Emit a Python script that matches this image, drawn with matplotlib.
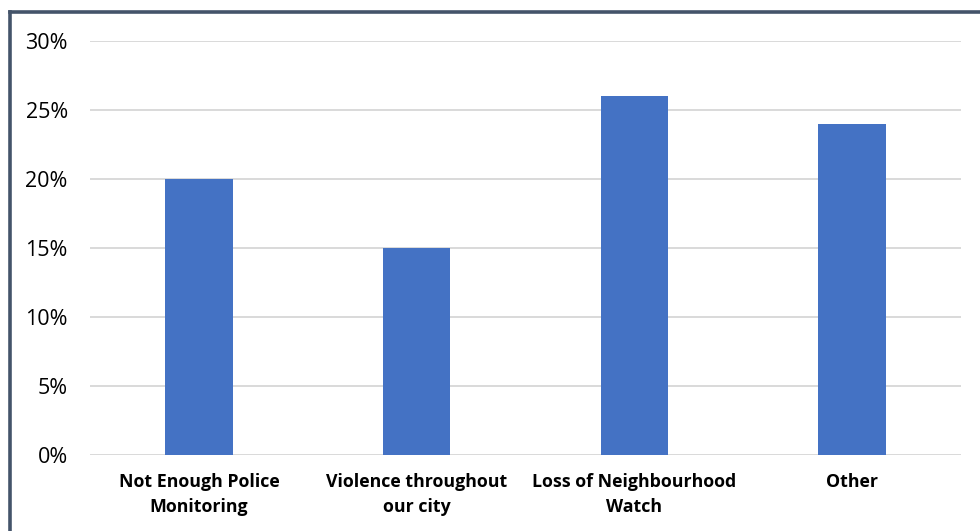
import matplotlib.pyplot as plt
from matplotlib.ticker import PercentFormatter
from matplotlib.lines import Line2D

categories = ["Not Enough Police\nMonitoring", "Violence throughout\nour city",
              "Loss of Neighbourhood\nWatch", "Other"]
values = [0.20, 0.15, 0.26, 0.24]
yticks = [0, 0.05, 0.10, 0.15, 0.20, 0.25, 0.30]

plt.rcParams["font.family"] = ["Open Sans", "DejaVu Sans"]

fig = plt.figure(figsize=(9.8, 5.31), dpi=100)
ax = fig.add_axes([90 / 980, 76 / 531, 871 / 980, 414 / 531])

x = range(len(categories))
ax.bar(x, values, width=0.31, color="#4472C4", zorder=3)

ax.set_xlim(-0.5, len(categories) - 0.5)
ax.set_ylim(0, 0.30)
ax.set_yticks(yticks)
ax.yaxis.set_major_formatter(PercentFormatter(1.0, decimals=0))
ax.grid(axis="y", color="#D9D9D9", linewidth=1.4, zorder=0)
ax.set_axisbelow(True)

ax.set_xticks(list(x))
ax.set_xticklabels(categories, fontsize=12.8, fontweight="bold", linespacing=1.5)
ax.tick_params(axis="x", length=0, pad=13)
ax.tick_params(axis="y", length=0, labelsize=15.5, pad=16)

for s in ax.spines.values():
    s.set_visible(False)

# dark frame around the chart (only left and top are inside the image)
fig.add_artist(Line2D([9.5 / 980, 9.5 / 980], [0, 1 - 11.5 / 531],
                      transform=fig.transFigure, color="#44546A", linewidth=2.6))
fig.add_artist(Line2D([9.5 / 980, 1], [1 - 11.5 / 531, 1 - 11.5 / 531],
                      transform=fig.transFigure, color="#44546A", linewidth=2.6))

fig.savefig("out.png", dpi=100)
